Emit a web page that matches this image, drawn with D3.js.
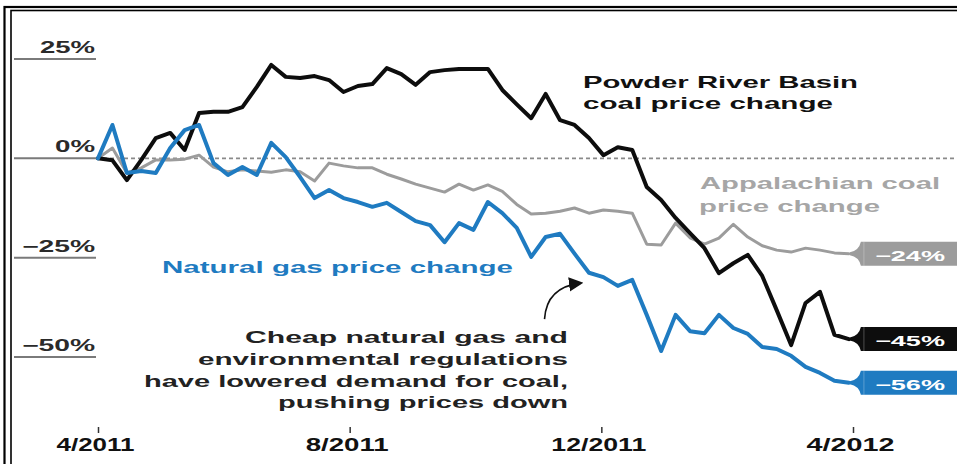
<!DOCTYPE html>
<html>
<head>
<meta charset="utf-8">
<script src="https://cdn.jsdelivr.net/npm/d3@7"></script>
<style>
  html, body { margin: 0; padding: 0; background: #fff; }
  svg { display: block; }
  text { font-family: "Liberation Sans", Arial, sans-serif; font-weight: bold; }
</style>
</head>
<body>
<svg id="chart" width="957" height="464"></svg>
<script>
// ---------------- DATA ----------------
const startDate = new Date(2011, 3, 1);
const endDate = new Date(2012, 3, 1);
// weekly observations, 4/1/2011 .. 3/30/2012 (53 weeks)
const weeks = d3.timeDay.range(startDate, new Date(2012, 3, 2), 7);

const powderRiver = [0, -0.5, -5.5, -0.4, 5.1, 6.4, 2.1, 11.4, 11.7, 11.7, 12.9, 18, 23.5, 20.5, 20.2, 20.7,
  19.7, 16.7, 18.2, 18.7, 22.7, 21.2, 18.5, 21.7, 22.2, 22.5, 22.5, 22.5, 17.2, 13.6, 10.1, 16.2, 9.6, 8.4,
  5.1, 0.8, 2.8, 2.1, -7.2, -10.5, -15, -18.8, -22.6, -28.9, -26.4, -24.3, -29.6, -38.2, -47, -36.4, -33.6, -44.4, -45.5];

const appalachian = [0, 2.6, -3.7, -2.4, -0.4, -0.4, -0.2, 0.8, -2.2, -3.4, -2.9, -3.2, -3.5, -2.9, -3.4, -5.7,
  -1.2, -1.9, -2.4, -2.4, -4, -5.2, -6.5, -7.5, -8.5, -6.5, -8, -6.7, -8.3, -11.6, -14, -13.8, -13.3, -12.5,
  -13.8, -13, -13.3, -13.8, -21.6, -21.8, -16.3, -20, -21.6, -20.1, -16.6, -19.8, -22, -23.1, -23.6, -22.6, -23.1, -23.8, -24];

const naturalGas = [0, 8.4, -3.7, -3.2, -3.7, 2.6, 7.1, 8.4, -1.2, -4.2, -2.2, -4.2, 3.9, 0.3, -4.7, -10,
  -8, -10, -11, -12.2, -11.2, -13.5, -15.8, -16.8, -21.1, -16.3, -18, -11, -13.8, -17.5, -24.8, -19.8, -19, -24,
  -28.8, -29.9, -32.1, -30.6, -39.4, -48.5, -39.4, -43.5, -44, -39.4, -42.7, -44.2, -47.5, -48, -49.7, -52.5, -54, -56, -56.5];

const seriesNames = ["Appalachian", "Powder River Basin", "Natural gas"];
const endLabels = ["\u221224%", "\u221245%", "\u221256%"];
const yTicks = [25, 0, -25, -50];
const yTickLabels = ["25%", "0%", "\u221225%", "\u221250%"];
const xTickDates = [new Date(2011, 3, 1), new Date(2011, 7, 1), new Date(2011, 11, 1), new Date(2012, 3, 1)];
const xTickLabels = ["4/2011", "8/2011", "12/2011", "4/2012"];

// ---------------- STYLE ----------------
const colors = { gray: "#9c9c9c", grayText: "#a6a6a6", black: "#0d0d0d", blue: "#1f7bc1" };

const svg = d3.select("#chart");

const x = d3.scaleTime().domain([startDate, endDate]).range([98, 853]);
const y = d3.scaleLinear().domain([-50, 25]).range([357, 59]);

// frame (double border)
svg.append("rect").attr("x", 4.5).attr("y", 7).attr("width", 1000).attr("height", 500)
  .attr("fill", "none").attr("stroke", "#000").attr("stroke-width", 2.2);
svg.append("rect").attr("x", 11).attr("y", 10.5).attr("width", 1000).attr("height", 500)
  .attr("fill", "none").attr("stroke", "#000").attr("stroke-width", 1.6);

// y gridline stubs + labels
const yg = svg.append("g");
const yLabelWidths = [55, 40, 73, 73];
yTicks.forEach((v, i) => {
  yg.append("line").attr("x1", 14).attr("x2", 96).attr("y1", y(v)).attr("y2", y(v))
    .attr("stroke", "#7a7a7a").attr("stroke-width", 2);
  yg.append("text").attr("x", 95).attr("y", y(v) - 6).attr("text-anchor", "end")
    .attr("font-size", 16).attr("fill", "#2a2a2a")
    .attr("textLength", yLabelWidths[i]).attr("lengthAdjust", "spacingAndGlyphs")
    .text(yTickLabels[i]);
});
// dashed zero line
svg.append("line").attr("x1", 96).attr("x2", 957).attr("y1", y(0)).attr("y2", y(0))
  .attr("stroke", "#8a8a8a").attr("stroke-width", 1.6).attr("stroke-dasharray", "4,3");

// x axis
const xAxis = d3.axisBottom(x).tickValues(xTickDates).tickSize(6).tickPadding(5)
  .tickFormat((d, i) => xTickLabels[i]);
const xg = svg.append("g").attr("transform", "translate(0,427)").call(xAxis);
xg.select(".domain").remove();
xg.selectAll(".tick line").attr("stroke", "#333").attr("stroke-width", 1.5);
const xLabelWidths = [78, 83, 95, 88];
xg.selectAll(".tick text").attr("font-size", 18).attr("fill", "#111")
  .attr("font-family", "Liberation Sans, Arial, sans-serif").attr("font-weight", "bold")
  .attr("dx", -3)
  .attr("textLength", (d, i) => xLabelWidths[i]).attr("lengthAdjust", "spacingAndGlyphs");

// lines
const line = d3.line().x((d, i) => x(weeks[i])).y(d => y(d)).curve(d3.curveLinear);
const seriesData = [
  { name: seriesNames[0], values: appalachian, color: colors.gray, width: 3, label: endLabels[0] },
  { name: seriesNames[1], values: powderRiver, color: colors.black, width: 4, label: endLabels[1] },
  { name: seriesNames[2], values: naturalGas, color: colors.blue, width: 4, label: endLabels[2] }
];
seriesData.forEach(s => {
  svg.append("path").datum(s.values).attr("d", line)
    .attr("fill", "none").attr("stroke", s.color).attr("stroke-width", s.width)
    .attr("stroke-linejoin", "round").attr("stroke-linecap", "round");
});

// end tags (funnel-shaped left edge)
seriesData.forEach(s => {
  const last = s.values[s.values.length - 1];
  const cx = x(weeks[weeks.length - 1]) + 1;
  const cy = y(last);
  const h = 12;
  svg.append("path")
    .attr("d", `M${cx},${cy - 1.5} Q${cx + 9},${cy - 3} ${cx + 11},${cy - h} L960,${cy - h} L960,${cy + h} L${cx + 11},${cy + h} Q${cx + 9},${cy + 3} ${cx},${cy + 1.5} Z`)
    .attr("fill", s.color);
  svg.append("line").attr("x1", cx + 14).attr("x2", cx + 14).attr("y1", cy - h).attr("y2", cy + h)
    .attr("stroke", "#fff").attr("stroke-opacity", 0.18).attr("stroke-width", 1.5);
  svg.append("text").attr("x", 945).attr("y", cy + 7).attr("text-anchor", "end")
    .attr("font-size", 14).attr("fill", "#fff")
    .attr("textLength", 70).attr("lengthAdjust", "spacingAndGlyphs")
    .text(s.label);
});

// series labels
function label(txt, xx, yy, len, color, size, anchor) {
  svg.append("text").attr("x", xx).attr("y", yy).attr("text-anchor", anchor || "start")
    .attr("font-size", size).attr("fill", color)
    .attr("textLength", len).attr("lengthAdjust", "spacingAndGlyphs").text(txt);
}
label("Powder River Basin", 583, 88, 275, "#111", 17);
label("coal price change", 583, 109, 250, "#111", 17);
label("Appalachian coal", 700, 189, 240, colors.grayText, 17);
label("price change", 699, 212, 181, colors.grayText, 17);
label("Natural gas price change", 162, 273, 351, colors.blue, 17);

// annotation
const noteLines = ["Cheap natural gas and", "environmental regulations", "have lowered demand for coal,", "pushing prices down"];
const noteLens = [323, 370, 424, 290];
const noteBase = [343, 365, 387, 408];
noteLines.forEach((t, i) => label(t, 568, noteBase[i], noteLens[i], "#222", 16.5, "end"));

// arrow pointing at natural gas line
const defs = svg.append("defs");
defs.append("marker").attr("id", "ah").attr("viewBox", "0 0 10 10").attr("refX", 8).attr("refY", 5)
  .attr("markerWidth", 9).attr("markerHeight", 9).attr("orient", "auto-start-reverse")
  .append("path").attr("d", "M0,0 L10,5 L0,10 Z").attr("fill", "#111");
const tipX = x(weeks[33]) + 6, tipY = y(-31.4);
svg.append("path")
  .attr("d", `M${tipX - 36},${tipY + 36} Q${tipX - 34},${tipY + 4} ${tipX},${tipY}`)
  .attr("fill", "none").attr("stroke", "#111").attr("stroke-width", 1.6)
  .attr("marker-end", "url(#ah)");
</script>
</body>
</html>
